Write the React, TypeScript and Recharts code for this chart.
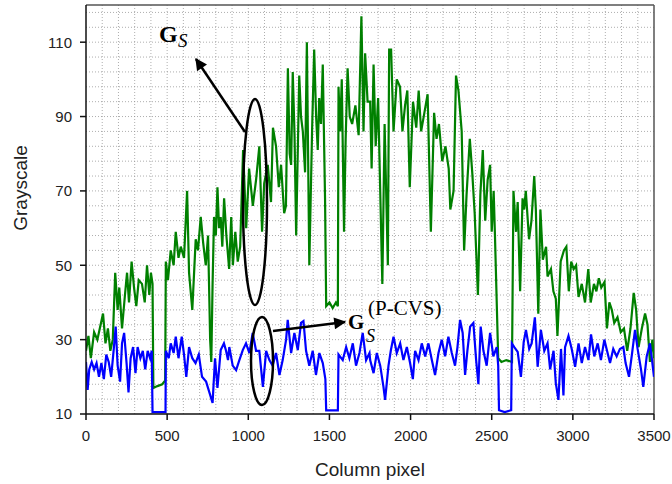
import React from 'react';
import { LineChart, Line, XAxis, YAxis, ReferenceLine } from 'recharts';

// [column pixel, grayscale]
const greenSeries: [number, number][] = [
  [0, 27], [15, 31], [30, 25], [50, 32], [70, 30], [90, 34], [105, 37], [120, 29], [135, 33], [150, 27],
  [165, 30], [180, 48], [195, 38], [205, 44], [222, 33], [240, 42], [253, 48], [265, 40], [281, 51], [296, 44],
  [310, 39], [325, 46], [345, 45], [362, 40], [376, 50], [390, 42], [400, 48], [410, 45], [415, 17], [440, 17.5],
  [470, 18], [488, 19], [492, 51], [505, 46], [522, 54], [540, 50], [553, 59], [570, 52], [584, 55], [604, 52],
  [623, 70], [635, 48], [645, 43], [655, 38], [676, 57], [690, 54], [707, 63], [722, 56], [738, 50], [752, 58],
  [765, 30], [772, 24], [780, 45], [789, 63], [800, 58], [810, 71], [820, 60], [830, 63], [840, 55], [851, 68],
  [865, 58], [882, 49], [895, 63], [905, 50], [920, 59], [935, 51], [950, 55], [968, 81], [987, 60], [1005, 76],
  [1028, 66], [1048, 73], [1068, 82], [1085, 59], [1098, 72], [1120, 77], [1140, 67], [1152, 87], [1171, 82], [1188, 71],
  [1202, 77], [1221, 64], [1232, 66], [1244, 103], [1255, 80], [1264, 77], [1274, 102], [1285, 85], [1295, 58], [1314, 101],
  [1325, 90], [1336, 86], [1350, 75], [1361, 110], [1376, 50], [1393, 86], [1406, 108], [1418, 90], [1428, 81], [1437, 95],
  [1448, 88], [1459, 104], [1473, 68], [1480, 39], [1500, 40], [1520, 38.5], [1540, 40], [1552, 39], [1556, 98], [1566, 86],
  [1576, 100], [1590, 59], [1600, 84], [1612, 103], [1625, 90], [1640, 88], [1660, 93], [1680, 85], [1697, 117], [1710, 86],
  [1720, 107], [1735, 94], [1751, 94], [1760, 76], [1772, 104], [1785, 82], [1800, 95], [1826, 45], [1840, 88], [1860, 50],
  [1868, 108], [1880, 108], [1895, 86], [1915, 100], [1935, 98], [1950, 86], [1966, 93], [1980, 97], [1995, 71], [2015, 94],
  [2035, 87], [2050, 97], [2065, 86], [2085, 91], [2105, 96], [2125, 59], [2145, 91], [2160, 84], [2175, 88], [2195, 78],
  [2215, 82], [2235, 76], [2245, 65], [2265, 70], [2280, 101], [2295, 97], [2315, 86], [2330, 54], [2345, 69], [2365, 84],
  [2380, 75], [2395, 64], [2415, 42], [2430, 69], [2445, 81], [2460, 62], [2475, 73], [2490, 77], [2500, 59], [2512, 70],
  [2520, 58], [2540, 25], [2560, 24], [2590, 24.5], [2625, 24], [2634, 70], [2650, 59], [2660, 67], [2675, 43], [2690, 68],
  [2700, 65], [2710, 70], [2730, 57], [2745, 62], [2762, 74], [2772, 65], [2787, 37], [2800, 65], [2815, 51.5], [2835, 55],
  [2844, 47], [2865, 49], [2880, 43], [2895, 41], [2905, 31], [2925, 51], [2945, 54], [2960, 55], [2975, 43], [2990, 51],
  [3005, 49], [3020, 50], [3035, 41.5], [3055, 45], [3075, 40], [3095, 49], [3110, 40], [3130, 45], [3145, 43], [3160, 46.5],
  [3175, 44], [3195, 45.5], [3210, 33], [3225, 40], [3240, 38], [3255, 34.5], [3275, 36], [3295, 32], [3315, 33], [3335, 27],
  [3355, 33], [3375, 42.6], [3390, 38], [3405, 28], [3425, 33], [3445, 37], [3460, 34], [3475, 24], [3490, 30], [3500, 25],
];

const blueSeries: [number, number][] = [
  [0, 24], [10, 16.5], [20, 22], [35, 24], [50, 22], [65, 23.7], [80, 20], [95, 23.7], [110, 19.4], [125, 26],
  [140, 24], [155, 20], [170, 27], [183, 33.5], [195, 23], [210, 18.7], [222, 29], [235, 31.8], [250, 23.7], [262, 15.8],
  [275, 25], [290, 28], [305, 21], [318, 28], [335, 25], [350, 27], [365, 22], [380, 27], [395, 25], [405, 27],
  [410, 10.5], [450, 10.5], [490, 10.5], [492, 27], [510, 25], [522, 29], [540, 26.4], [553, 30.8], [570, 25], [590, 30.8],
  [604, 26], [618, 20], [635, 28], [655, 25], [675, 23.7], [695, 26], [715, 20], [740, 18.7], [780, 13], [795, 25],
  [810, 17], [830, 27.2], [850, 29], [863, 27], [875, 24.5], [883, 28], [904, 23], [925, 21.8], [945, 24.5], [966, 27.2],
  [986, 29], [1007, 26.4], [1027, 31.8], [1048, 27], [1068, 27], [1090, 17.3], [1110, 27], [1130, 24.5], [1150, 23], [1171, 26.4],
  [1192, 20.5], [1212, 24.5], [1233, 30], [1243, 35.3], [1264, 26.4], [1284, 31.8], [1305, 27.2], [1325, 34.5], [1340, 35], [1356, 27],
  [1376, 23], [1397, 27], [1417, 20.5], [1438, 26.4], [1459, 23.7], [1475, 19.4], [1480, 11], [1520, 11], [1552, 11], [1556, 26],
  [1582, 24.5], [1603, 28], [1623, 25], [1644, 29], [1664, 23], [1685, 26.4], [1705, 31.8], [1726, 24.5], [1747, 26.4], [1751, 24.5],
  [1772, 21], [1792, 26.4], [1813, 23], [1833, 17.3], [1843, 13.8], [1864, 23], [1878, 27], [1895, 30.8], [1915, 26.4], [1936, 29],
  [1956, 24.5], [1977, 28], [1997, 23.7], [2014, 19.4], [2028, 27], [2049, 24.5], [2069, 29], [2090, 25.5], [2110, 29], [2131, 24.5],
  [2151, 20.5], [2172, 26.4], [2192, 30], [2213, 25.5], [2233, 30.8], [2254, 26.4], [2274, 23], [2289, 28], [2305, 35.3], [2321, 31.8],
  [2336, 20.5], [2350, 27], [2367, 33.5], [2387, 34.5], [2404, 24.5], [2418, 18], [2432, 33.5], [2449, 27], [2469, 23], [2490, 31.8],
  [2510, 25.5], [2531, 28], [2540, 23], [2545, 11], [2580, 10.5], [2620, 11], [2624, 29], [2639, 28], [2660, 26.7], [2680, 20],
  [2697, 29.3], [2711, 32.6], [2731, 27.5], [2746, 29], [2766, 36], [2783, 22.7], [2803, 32.6], [2824, 27], [2844, 29], [2860, 22],
  [2881, 27], [2895, 18.3], [2911, 13.8], [2927, 27.5], [2942, 15], [2952, 28], [2973, 31], [2993, 27.5], [3014, 22.7], [3035, 29],
  [3055, 23.7], [3075, 28], [3096, 24.5], [3112, 31.4], [3132, 25.5], [3153, 29], [3173, 24.5], [3194, 30], [3208, 27.5], [3229, 23.7],
  [3249, 27.5], [3270, 25.5], [3290, 27.5], [3311, 28], [3325, 23.7], [3346, 20], [3366, 26.7], [3383, 32.6], [3399, 27.5], [3420, 22],
  [3434, 17.3], [3455, 25.5], [3475, 29], [3485, 25.5], [3500, 20],
];

const xTicks = [0, 500, 1000, 1500, 2000, 2500, 3000, 3500];
const yTicks = [10, 30, 50, 70, 90, 110];
// dotted minor grid: every 100 columns, every 4 grey levels
const gridX = Array.from({ length: 34 }, (_, i) => (i + 1) * 100);
const gridY = Array.from({ length: 27 }, (_, i) => 14 + i * 4);

const greenRows = greenSeries.map(([col, v]) => ({ col, g: v }));
const blueRows = blueSeries.map(([col, v]) => ({ col, b: v }));

const tickFont = { fontSize: 15, fill: '#222', fontFamily: 'Liberation Sans, Arial, sans-serif' };
const serif = 'Liberation Serif, serif';

export default function App() {
  return (
    <div style={{ position: 'absolute', left: 0, top: 0, width: 672, height: 484, background: '#fff' }}>
      <LineChart width={672} height={484} margin={{ top: 5, right: 18, bottom: 0, left: 0 }}>
        <XAxis
          type="number"
          dataKey="col"
          domain={[0, 3500]}
          ticks={xTicks}
          height={70}
          tickSize={6}
          tickMargin={10}
          tick={tickFont}
          stroke="#111"
          strokeWidth={1.5}
          allowDataOverflow
        />
        <YAxis
          type="number"
          domain={[10, 120]}
          ticks={yTicks}
          width={86}
          tickSize={6}
          tickMargin={8}
          tick={tickFont}
          stroke="#111"
          strokeWidth={1.5}
          allowDataOverflow
        />
        {gridY.map((v) => (
          <ReferenceLine key={'gy' + v} y={v} stroke="#8c8c8c" strokeOpacity={0.7} strokeWidth={1} strokeDasharray="1 2" />
        ))}
        {gridX.map((v) => (
          <ReferenceLine key={'gx' + v} x={v} stroke="#8c8c8c" strokeOpacity={0.7} strokeWidth={1} strokeDasharray="1 2" />
        ))}
        <ReferenceLine y={120} stroke="#555" strokeWidth={1.5} />
        <ReferenceLine x={3500} stroke="#555" strokeWidth={1.5} />
        <Line data={greenRows} dataKey="g" type="linear" stroke="#008000" strokeWidth={2.2} dot={false} isAnimationActive={false} />
        <Line data={blueRows} dataKey="b" type="linear" stroke="#0000ff" strokeWidth={2.2} dot={false} isAnimationActive={false} />
      </LineChart>
      <svg width={672} height={484} style={{ position: 'absolute', left: 0, top: 0, pointerEvents: 'none' }}>
        <defs>
          <marker id="head" viewBox="0 0 10 10" refX="9" refY="5" markerWidth="14" markerHeight="12" markerUnits="userSpaceOnUse" orient="auto">
            <path d="M0,0 L10,5 L0,10 z" fill="#000" />
          </marker>
        </defs>
        <text x={27} y={188} transform="rotate(-90 27 188)" textAnchor="middle" fontSize={19} fill="#222" fontFamily="Liberation Sans, Arial, sans-serif">Grayscale</text>
        <text x={370} y={476} textAnchor="middle" fontSize={19} fill="#222" fontFamily="Liberation Sans, Arial, sans-serif">Column pixel</text>

        <ellipse cx={255} cy={202} rx={12} ry={103} fill="none" stroke="#000" strokeWidth={2.5} />
        <line x1={245} y1={132} x2={196} y2={59} stroke="#000" strokeWidth={2.5} markerEnd="url(#head)" />
        <text x={159} y={42} fontSize={24} fontWeight="bold" fontFamily={serif} fill="#000">G</text>
        <text x={178} y={47} fontSize={19} fontStyle="italic" fontFamily={serif} fill="#000">S</text>

        <ellipse cx={262} cy={361} rx={11} ry={44} fill="none" stroke="#000" strokeWidth={2.5} />
        <line x1={273} y1={331} x2={345} y2={322} stroke="#000" strokeWidth={2.5} markerEnd="url(#head)" />
        <text x={348} y={329} fontSize={21} fontWeight="bold" fontFamily={serif} fill="#000">G</text>
        <text x={366} y={342} fontSize={18} fontStyle="italic" fontFamily={serif} fill="#000">S</text>
        <text x={368} y={315} fontSize={21} fontFamily={serif} fill="#000">(P-CVS)</text>
      </svg>
    </div>
  );
}
